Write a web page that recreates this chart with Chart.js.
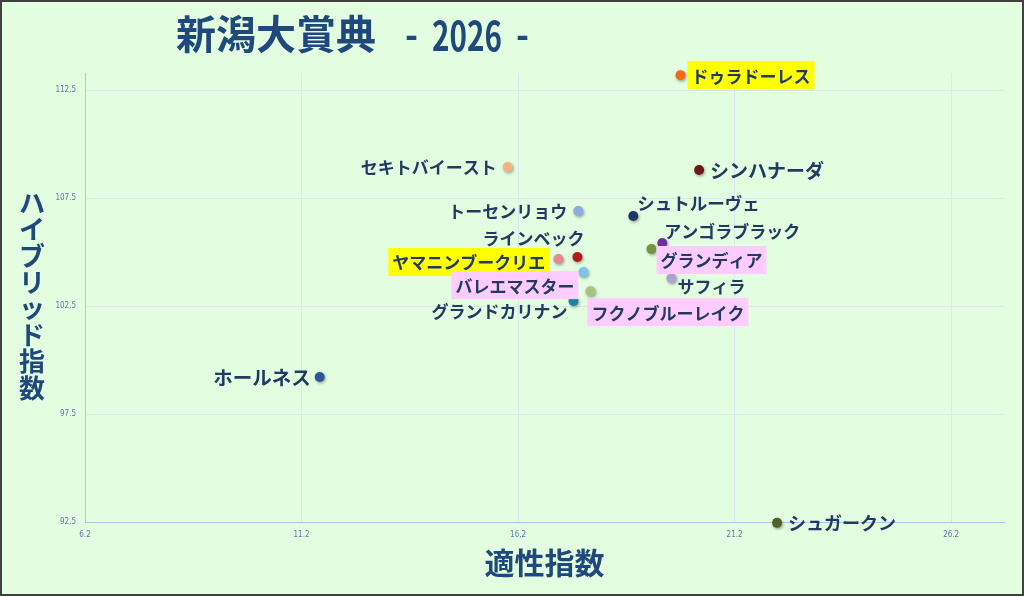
<!DOCTYPE html>
<html lang="ja">
<head>
<meta charset="utf-8">
<title>新潟大賞典 - 2026 -</title>
<script src="https://cdn.jsdelivr.net/npm/chart.js@4/dist/chart.umd.min.js"></script>
<style>
html, body { margin: 0; padding: 0; background: #e3fde1; }
#wrap { width: 1024px; height: 596px; position: relative; }
</style>
</head>
<body>
<div id="wrap"><canvas id="myChart"></canvas></div>
<script>
// data
const horses = ['ドゥラドーレス', 'シンハナーダ', 'セキトバイースト', 'トーセンリョウ', 'シュトルーヴェ',
    'アンゴラブラック', 'ラインベック', 'ヤマニンブークリエ', 'バレエマスター', 'グランディア',
    'サフィラ', 'フクノブルーレイク', 'グランドカリナン', 'ホールネス', 'シュガークン'];
const tekisei = [19.95, 20.38, 15.96, 17.59, 18.86, 19.53, 17.57, 17.13, 17.71, 19.28, 19.74, 17.87, 17.48, 11.62, 22.18];
const hybrid = [113.19, 108.8, 108.94, 106.9, 106.67, 105.42, 104.77, 104.68, 104.07, 105.14, 103.8, 103.19, 102.73, 99.21, 92.46];
const xTicks = [6.2, 11.2, 16.2, 21.2, 26.2];
const yTicks = [92.5, 97.5, 102.5, 107.5, 112.5];

// styles
const dotColors = ['#f26a11', '#6b1a1a', '#f4b183', '#8faadc', '#1f3864',
    '#7030a0', '#b01c1c', '#e08c8c', '#7cc5e8', '#77933c',
    '#b4a0d0', '#a9c47f', '#17869e', '#2f5597', '#4f6228'];
// [textAlign, dx, dy, highlight, fontSize]
const labelPlace = [
    ['left', 11, 0, '#ffff00', 17],
    ['left', 11, 0, null, 19],
    ['right', -11, 0, null, 17],
    ['right', -11, 0, null, 17],
    ['left', 4, -14, null, 17.5],
    ['left', 2, -12, null, 17],
    ['right', 7, -19, null, 17],
    ['right', -13, 3, '#ffff00', 17],
    ['right', -9, 13, '#ffccff', 17],
    ['left', 9, 11, '#ffccff', 17],
    ['left', 6, 8, null, 17],
    ['left', 1, 21, '#ffccff', 17],
    ['right', -6, 9, null, 17],
    ['right', -9, 0, null, 19.5],
    ['left', 11, -1, null, 18]
];

const cjk = '"Noto Sans CJK JP", "Noto Sans", sans-serif';
const narrow = '"Liberation Sans Narrow", "DejaVu Sans Condensed", sans-serif';
const navy = '#1f497d';

const decor = {
    id: 'decor',
    beforeDraw(chart) {
        const c = chart.ctx;
        c.save();
        c.fillStyle = '#e3fde1';
        c.fillRect(0, 0, chart.width, chart.height);
        c.restore();
    },
    beforeDatasetsDraw(chart) {
        const c = chart.ctx;
        c.save();
        c.shadowColor = 'rgba(0,0,0,0.35)';
        c.shadowBlur = 3;
        c.shadowOffsetX = 1;
        c.shadowOffsetY = 1.5;
    },
    afterDatasetsDraw(chart) {
        const c = chart.ctx;
        c.restore();
        const meta = chart.getDatasetMeta(0);
        c.save();
        c.textBaseline = 'middle';
        meta.data.forEach((pt, i) => {
            const [al, dx, dy, bg, fs] = labelPlace[i];
            c.font = '600 ' + fs + 'px ' + cjk;
            const tx = pt.x + dx, ty = pt.y + dy;
            const w = c.measureText(horses[i]).width;
            if (bg) {
                const bx = al === 'left' ? tx - 4 : tx - w - 4;
                c.fillStyle = bg;
                c.fillRect(bx, ty - 14, w + 8, 28);
            }
            c.fillStyle = '#203a63';
            c.textAlign = al;
            c.fillText(horses[i], tx, ty + 1);
        });
        c.restore();
    },
    afterDraw(chart) {
        const c = chart.ctx;
        c.save();
        // title
        c.fillStyle = navy;
        c.textBaseline = 'middle';
        c.textAlign = 'left';
        c.font = 'bold 40px ' + cjk;
        c.fillText('新潟大賞典', 176, 34);
        c.fillText('-', 405, 34, 13);
        c.fillText('2026', 432, 36, 70);
        c.fillText('-', 516, 34, 13);
        // vertical y title
        c.font = 'bold 26px ' + cjk;
        c.textAlign = 'center';
        'ハイブリッド指数'.split('').forEach((ch, i) => {
            c.fillText(ch, 32, 203 + i * 26.4);
        });
        // outer frame
        c.strokeStyle = '#404040';
        c.lineWidth = 2;
        c.strokeRect(1, 1, chart.width - 2, chart.height - 2);
        c.restore();
    }
};

const ctx = document.getElementById('myChart').getContext('2d');
const myChart = new Chart(ctx, {
    type: 'scatter',
    data: {
        datasets: [{
            label: '新潟大賞典',
            data: horses.map((h, i) => ({ x: tekisei[i], y: hybrid[i] })),
            pointBackgroundColor: dotColors,
            pointBorderWidth: 0,
            pointRadius: 5,
            clip: false
        }]
    },
    options: {
        responsive: true,
        maintainAspectRatio: false,
        animation: false,
        layout: {
            padding: { top: 73, right: 20, left: 0, bottom: 0 }
        },
        scales: {
            x: {
                type: 'linear',
                min: 6.2,
                max: 27.42,
                afterBuildTicks: s => { s.ticks = xTicks.map(v => ({ value: v })); },
                afterFit: s => { s.height = 74; },
                border: { color: '#a9c8ec', width: 1 },
                grid: { color: '#dae6f2', drawTicks: false },
                ticks: {
                    color: '#5a7aa3',
                    font: { family: narrow, size: 8 },
                    padding: 8,
                    maxRotation: 0,
                    autoSkip: false,
                    callback: v => String(v)
                },
                title: {
                    display: true,
                    text: '適性指数',
                    color: navy,
                    font: { family: cjk, size: 30, weight: 'bold' },
                    padding: { top: 0, bottom: 15 }
                }
            },
            y: {
                type: 'linear',
                min: 92.5,
                max: 113.29,
                afterBuildTicks: s => { s.ticks = yTicks.map(v => ({ value: v })); },
                afterFit: s => { s.width = 85; },
                border: { color: '#a9c8ec', width: 1 },
                grid: { color: '#dae6f2', drawTicks: false },
                ticks: {
                    color: '#5a7aa3',
                    font: { family: narrow, size: 8 },
                    padding: 9,
                    autoSkip: false,
                    callback: v => String(v)
                }
            }
        },
        plugins: {
            legend: { display: false },
            tooltip: { enabled: false },
            title: { display: false }
        }
    },
    plugins: [decor]
});
</script>
</body>
</html>
